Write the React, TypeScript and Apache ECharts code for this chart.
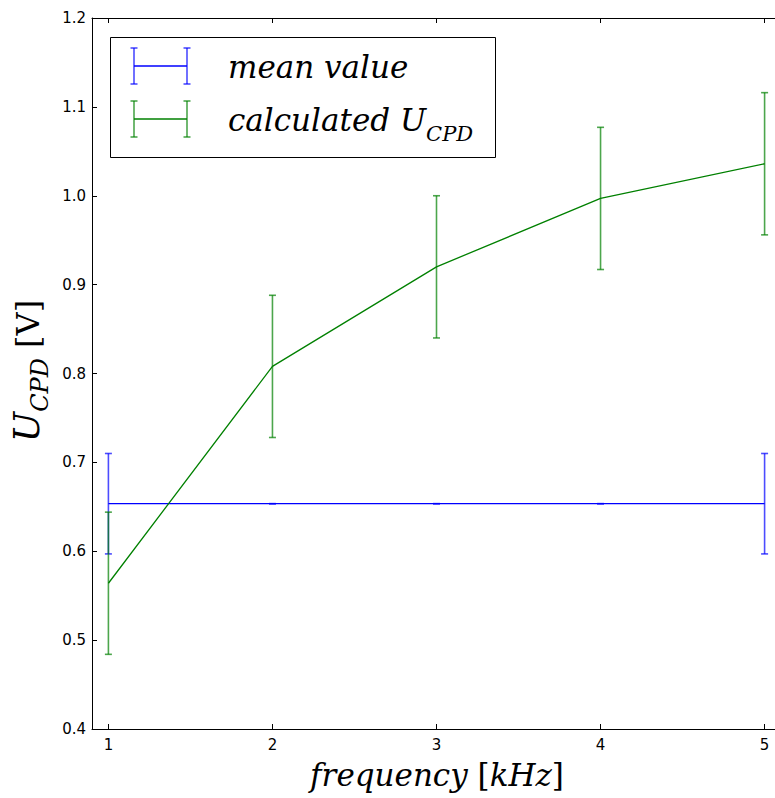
import React, { useEffect, useRef } from "react";
import * as echarts from "echarts";

// Measurement data
const freq = [1, 2, 3, 4, 5];
const meanValue = [0.6535, 0.6535, 0.6535, 0.6535, 0.6535];
const meanErr = [0.0565, 0, 0, 0, 0.0565];
const ucpd = [0.564, 0.808, 0.92, 0.997, 1.036];
const ucpdErr = [0.08, 0.08, 0.08, 0.08, 0.08];

const xTicks = [1, 2, 3, 4, 5];

const BLUE = "#0000ff";
const GREEN = "#008000";
const SERIF = '"DejaVu Serif", serif';
const SANS = '"DejaVu Sans", sans-serif';

const W = 775;
const H = 798;
// The plotting area runs a few pixels past the right edge of the visible frame.
const CHART_W = 781;

function measure(text: string, font: string): number {
  const c = document.createElement("canvas").getContext("2d")!;
  c.font = font;
  return c.measureText(text).width;
}

type Piece = { text: string; size: number; italic: boolean; dy?: number };

// Lays out a run of text pieces on a common line, centred on (0, 0) of its group.
function textRun(pieces: Piece[]) {
  const widths = pieces.map((p) =>
    measure(p.text, `${p.italic ? "italic " : ""}${p.size}px ${SERIF}`)
  );
  const total = widths.reduce((a, b) => a + b, 0);
  let x = -total / 2;
  return pieces.map((p, i) => {
    const el = {
      type: "text",
      x,
      y: p.dy || 0,
      style: {
        text: p.text,
        fontFamily: SERIF,
        fontSize: p.size,
        fontStyle: p.italic ? "italic" : "normal",
        fill: "#000",
        verticalAlign: "bottom",
        align: "left",
      },
    };
    x += widths[i];
    return el;
  });
}

function errorBars(color: string, values: number[], errs: number[], z: number) {
  return {
    type: "custom",
    xAxisIndex: 0,
    yAxisIndex: 0,
    z,
    data: freq.map((f, i) => [f, values[i], errs[i]]),
    renderItem: (_p: any, api: any) => {
      const x = api.value(0);
      const y = api.value(1);
      const e = api.value(2);
      const top = api.coord([x, y + e]);
      const bot = api.coord([x, y - e]);
      const style = { stroke: color, lineWidth: 1.6, opacity: 0.7 };
      const cap = 3.5;
      return {
        type: "group",
        children: [
          { type: "line", shape: { x1: top[0], y1: top[1], x2: bot[0], y2: bot[1] }, style },
          { type: "line", shape: { x1: top[0] - cap, y1: top[1], x2: top[0] + cap, y2: top[1] }, style },
          { type: "line", shape: { x1: bot[0] - cap, y1: bot[1], x2: bot[0] + cap, y2: bot[1] }, style },
        ],
      };
    },
  };
}

function legendSample(color: string, cy: number) {
  const x1 = 134;
  const x2 = 187;
  const half = 18;
  const cap = 3.5;
  const s = { stroke: color, lineWidth: 1.6, opacity: 0.7 };
  return [
    { type: "line", shape: { x1, y1: cy, x2, y2: cy }, style: { stroke: color, lineWidth: 1.6 } },
    ...[x1, x2].flatMap((x) => [
      { type: "line", shape: { x1: x, y1: cy - half, x2: x, y2: cy + half }, style: s },
      { type: "line", shape: { x1: x - cap, y1: cy - half, x2: x + cap, y2: cy - half }, style: s },
      { type: "line", shape: { x1: x - cap, y1: cy + half, x2: x + cap, y2: cy + half }, style: s },
    ]),
  ];
}

export default function App() {
  const ref = useRef<HTMLDivElement>(null);

  useEffect(() => {
    if (!ref.current) return;
    const chart = echarts.init(ref.current, undefined, { renderer: "svg" });

    const xName = textRun([
      { text: "frequency", size: 31, italic: true },
      { text: " [", size: 31, italic: false },
      { text: "kHz", size: 31, italic: true },
      { text: "]", size: 31, italic: false },
    ]);
    const yName = textRun([
      { text: "U", size: 36, italic: true },
      { text: "CPD", size: 24, italic: true, dy: 8 },
      { text: " [", size: 32, italic: false },
      { text: "V", size: 32, italic: false },
      { text: "]", size: 32, italic: false },
    ]);
    const leg2 = textRun([
      { text: "calculated ", size: 31, italic: true },
      { text: "U", size: 31, italic: true },
      { text: "CPD", size: 21, italic: true, dy: 9 },
    ]);
    const leg2Width =
      measure("calculated ", `italic 31px ${SERIF}`) +
      measure("U", `italic 31px ${SERIF}`) +
      measure("CPD", `italic 21px ${SERIF}`);

    const axisLine = { show: true, lineStyle: { color: "#000", width: 1 } };
    const tick = { show: true, inside: true, length: 5, lineStyle: { color: "#000", width: 1 } };

    chart.setOption({
      animation: false,
      grid: { left: 92, top: 18, right: 0, bottom: 69, containLabel: false },
      xAxis: [
        {
          type: "value",
          min: 0.9,
          max: 5.1,
          position: "bottom",
          axisLine,
          axisTick: { ...tick, customValues: xTicks },
          splitLine: { show: false },
          axisLabel: {
            customValues: xTicks,
            formatter: (v: number) => String(v),
            fontFamily: SANS,
            fontSize: 15,
            color: "#000",
            margin: 8,
          },
        },
        {
          type: "value",
          min: 0.9,
          max: 5.1,
          position: "top",
          axisLine,
          axisTick: { ...tick, customValues: xTicks },
          splitLine: { show: false },
          axisLabel: { show: false },
        },
      ],
      yAxis: {
        type: "value",
        min: 0.4,
        max: 1.2,
        interval: 0.1,
        axisLine,
        axisTick: tick,
        splitLine: { show: false },
        axisLabel: {
          formatter: (v: number) => v.toFixed(1),
          fontFamily: SANS,
          fontSize: 15,
          color: "#000",
          margin: 6,
        },
      },
      series: [
        {
          name: "mean value",
          type: "line",
          data: freq.map((f, i) => [f, meanValue[i]]),
          showSymbol: false,
          lineStyle: { color: BLUE, width: 1.3 },
          z: 2,
        },
        errorBars(BLUE, meanValue, meanErr, 3),
        {
          name: "calculated U_CPD",
          type: "line",
          data: freq.map((f, i) => [f, ucpd[i]]),
          showSymbol: false,
          lineStyle: { color: GREEN, width: 1.3 },
          z: 4,
        },
        errorBars(GREEN, ucpd, ucpdErr, 5),
      ],
      graphic: [
        { type: "group", x: 437, y: 790, children: xName },
        { type: "group", x: 44, y: 371, rotation: Math.PI / 2, children: yName },
        {
          type: "group",
          z: 100,
          children: [
            {
              type: "rect",
              shape: { x: 110.5, y: 37.5, width: 385, height: 120 },
              style: { fill: "#fff", stroke: "#000", lineWidth: 1 },
            },
            ...legendSample(BLUE, 66),
            ...legendSample(GREEN, 119),
            {
              type: "text",
              x: 228,
              y: 82,
              style: {
                text: "mean value",
                fontFamily: SERIF,
                fontSize: 31,
                fontStyle: "italic",
                fill: "#000",
                verticalAlign: "bottom",
              },
            },
            { type: "group", x: 228 + leg2Width / 2, y: 135, children: leg2 },
          ],
        },
      ],
    });

    return () => chart.dispose();
  }, []);

  return (
    <div
      style={{
        position: "fixed",
        left: 0,
        top: 0,
        width: W,
        height: H,
        overflow: "hidden",
        background: "#fff",
      }}
    >
      <div ref={ref} style={{ width: CHART_W, height: H }} />
    </div>
  );
}
